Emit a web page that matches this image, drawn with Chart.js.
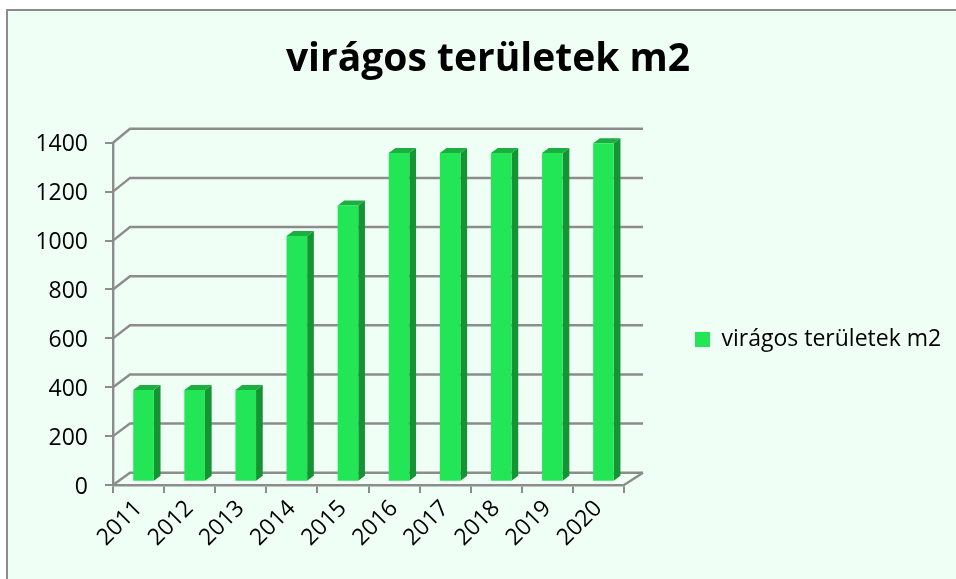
<!DOCTYPE html>
<html>
<head>
<meta charset="utf-8">
<title>virágos területek m2</title>
<script src="https://cdn.jsdelivr.net/npm/chart.js@4"></script>
<style>
    html, body { margin: 0; padding: 0; background: #fff; }
    #panel {
        position: absolute; left: 6px; top: 9px; width: 950px; height: 570px;
        box-sizing: border-box; background: #effff5;
        border-left: 2px solid #8c8c8c; border-top: 2px solid #8c8c8c;
    }
    #chart { position: absolute; left: 0; top: 0; display: block; }
</style>
</head>
<body>
<div id="panel"></div>
<canvas id="chart" width="956" height="579"></canvas>
<script>
/* Chart data */
const YEARS = ["2011", "2012", "2013", "2014", "2015", "2016", "2017", "2018", "2019", "2020"];
const AREA = [375, 375, 375, 1005, 1130, 1345, 1345, 1345, 1345, 1385];
const SERIES_NAME = "virágos területek m2";

const COLORS = {
    wall: "#8c8c8c",
    front: "#22e655",
    top: "#1bae41",
    side: "#149432",
    text: "#000",
};
const FONT = "'Open Sans', sans-serif";

/* Fake 3D: offset of the back wall and of the bar front from the axis plane */
const DEPTH_X = 17;
const BAR_SHIFT_X = 5, BAR_SHIFT_Y = -3.3;
const BAR_SIDE_X = 6.7, BAR_SIDE_Y = -5;

function backOffset(value) {
    return -12.3 - 1.7 * value / 1400;
}

const wall3d = {
    id: "wall3d",
    afterLayout(chart) {
        // the layout caps a side legend's width, so place it by hand
        const legend = chart.legend;
        legend.left = 687;
        legend.right = 956;
        legend.width = 269;
        legend.top = 100;
        legend.bottom = 579;
        legend.height = 479;
        // title is centred over the whole panel, not just the plot side
        const title = chart.titleBlock;
        title.left = 20;
        title.right = 956;
        title.width = 936;
    },
    beforeDatasetsDraw(chart) {
        const { ctx, scales: { x, y } } = chart;
        ctx.save();
        ctx.strokeStyle = COLORS.wall;
        ctx.lineWidth = 2.4;
        for (const tick of y.ticks) {
            const py = y.getPixelForValue(tick.value);
            const by = py + backOffset(tick.value);
            ctx.beginPath();
            ctx.moveTo(x.left, py);
            ctx.lineTo(x.left + DEPTH_X, by);
            ctx.lineTo(x.right + DEPTH_X + 2, by);
            ctx.stroke();
        }
        // floor edge on the right
        const py0 = y.getPixelForValue(0);
        ctx.beginPath();
        ctx.moveTo(x.right, py0);
        ctx.lineTo(x.right + DEPTH_X + 2, py0 + backOffset(0));
        ctx.stroke();
        ctx.restore();

        // bars are drawn by the library inside this translated state
        ctx.save();
        ctx.translate(BAR_SHIFT_X, BAR_SHIFT_Y);
        for (const bar of chart.getDatasetMeta(0).data) {
            const l = bar.x - bar.width / 2, r = bar.x + bar.width / 2;
            ctx.fillStyle = COLORS.side;
            ctx.beginPath();
            ctx.moveTo(r, bar.y);
            ctx.lineTo(r + BAR_SIDE_X, bar.y + BAR_SIDE_Y);
            ctx.lineTo(r + BAR_SIDE_X, bar.base + BAR_SIDE_Y);
            ctx.lineTo(r, bar.base);
            ctx.closePath();
            ctx.fill();
            ctx.fillStyle = COLORS.top;
            ctx.beginPath();
            ctx.moveTo(l, bar.y);
            ctx.lineTo(l + BAR_SIDE_X, bar.y + BAR_SIDE_Y);
            ctx.lineTo(r + BAR_SIDE_X, bar.y + BAR_SIDE_Y);
            ctx.lineTo(r, bar.y);
            ctx.closePath();
            ctx.fill();
        }
    },
    afterDatasetsDraw(chart) {
        chart.ctx.restore();
    },
};

new Chart(document.getElementById("chart"), {
    type: "bar",
    data: {
        labels: YEARS,
        datasets: [{
            label: SERIES_NAME,
            data: AREA,
            backgroundColor: COLORS.front,
            barPercentage: 0.403,
            categoryPercentage: 1,
            clip: false,
        }],
    },
    plugins: [wall3d],
    options: {
        responsive: false,
        animation: false,
        layout: { padding: { top: 0, left: 20, right: 232, bottom: 0 } },
        plugins: {
            title: {
                display: true,
                text: SERIES_NAME,
                color: COLORS.text,
                font: { family: FONT, size: 39, weight: "bold" },
                padding: { top: 36, bottom: 60 },
            },
            legend: {
                position: "right",
                maxWidth: 100,
                labels: {
                    color: COLORS.text,
                    font: { family: FONT, size: 23 },
                    boxWidth: 15,
                    boxHeight: 15,
                    padding: 8,
                },
            },
            tooltip: { enabled: false },
        },
        scales: {
            x: {
                afterFit: s => { s.height = 94; },
                grid: { drawOnChartArea: false, color: COLORS.wall, lineWidth: 2, tickLength: 8 },
                border: { color: COLORS.wall, width: 2.4 },
                ticks: {
                    color: COLORS.text,
                    font: { family: FONT, size: 23 },
                    maxRotation: 45,
                    minRotation: 45,
                    autoSkip: false,
                    padding: 2,
                },
            },
            y: {
                min: 0,
                max: 1400,
                afterFit: s => { s.width = 93; },
                grid: { drawOnChartArea: false, color: COLORS.wall, lineWidth: 2, tickLength: 8 },
                border: { color: COLORS.wall, width: 2.4 },
                ticks: {
                    stepSize: 200,
                    format: { useGrouping: false },
                    color: COLORS.text,
                    font: { family: FONT, size: 23 },
                    padding: 17,
                    labelOffset: 2,
                },
            },
        },
    },
});
</script>
</body>
</html>
